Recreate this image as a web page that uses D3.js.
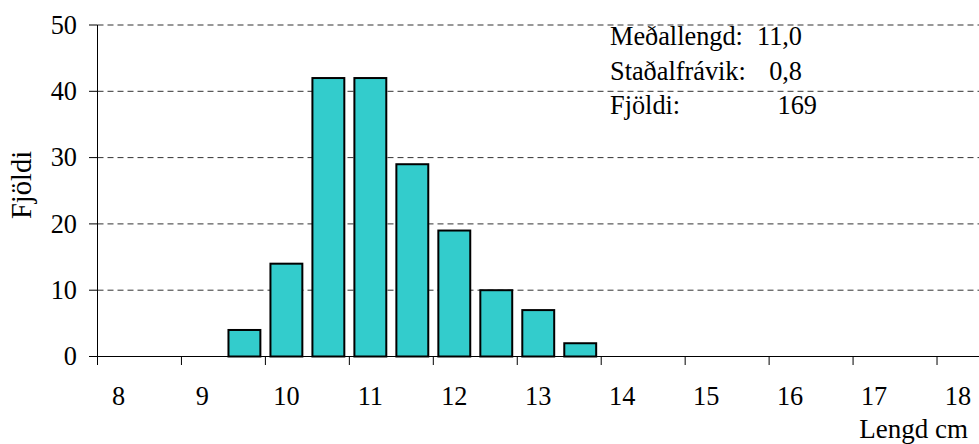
<!DOCTYPE html>
<html><head><meta charset="utf-8">
<script src="https://cdn.jsdelivr.net/npm/d3@7"></script>
<style>body{margin:0;background:#fff}svg{display:block}</style>
</head><body><svg id="c" width="979" height="444"></svg>
<script>
const categories = [8,8.5,9,9.5,10,10.5,11,11.5,12,12.5,13,13.5,14,14.5,15,15.5,16,16.5,17,17.5,18];
const counts     = [0,0,0,4,14,42,42,29,19,10,7,2,0,0,0,0,0,0,0,0,0];
const xTickLabels = [8,9,10,11,12,13,14,15,16,17,18];
const yTicks = [0,10,20,30,40,50];
const statLabels = ["Meðallengd:","Staðalfrávik:","Fjöldi:"];
const statValues = ["11,0","0,8","169"];

const FF = "'Liberation Serif'";
const svg = d3.select("#c");
const L=97.5, R=979, T=25, B=356.5;
const x = d3.scaleBand().domain(categories).range([L,R]).padding(0);
const y = d3.scaleLinear().domain([0,50]).range([B,T]);
const fs = 26.3;
function txt(g){ return g.append("text").style("font-family",FF).attr("fill","#000"); }

// gridlines
svg.append("g").selectAll("line").data(yTicks.filter(d=>d>0)).join("line")
  .attr("x1",L).attr("x2",R).attr("y1",d=>y(d)).attr("y2",d=>y(d))
  .attr("stroke","#333").attr("stroke-width",1).attr("stroke-dasharray","6,4");

// bars
const bw = x.bandwidth()*0.76;
svg.append("g").selectAll("rect").data(categories.map((c,i)=>({c,v:counts[i]})).filter(d=>d.v>0)).join("rect")
  .attr("x",d=>x(d.c)+(x.bandwidth()-bw)/2).attr("width",bw)
  .attr("y",d=>y(d.v)).attr("height",d=>y(0)-y(d.v))
  .attr("fill","#33CCCC").attr("stroke","#000").attr("stroke-width",2);

// y axis
const ya = svg.append("g");
ya.append("line").attr("x1",L).attr("x2",L).attr("y1",T).attr("y2",B).attr("stroke","#000");
ya.selectAll("line.t").data(yTicks).join("line").attr("class","t")
  .attr("x1",L-8.5).attr("x2",L).attr("y1",d=>y(d)).attr("y2",d=>y(d)).attr("stroke","#000");
ya.selectAll("text").data(yTicks).join("text").style("font-family",FF)
  .attr("x",77).attr("y",d=>y(d)).attr("dy","0.33em").attr("text-anchor","end")
  .attr("font-size",fs).text(d=>d);

// x axis
const xa = svg.append("g");
xa.append("line").attr("x1",L).attr("x2",R).attr("y1",B).attr("y2",B).attr("stroke","#000");
xa.selectAll("line.t").data(xTickLabels).join("line").attr("class","t")
  .attr("x1",d=>x(d)).attr("x2",d=>x(d)).attr("y1",B).attr("y2",B+8.5).attr("stroke","#000");
xa.selectAll("text").data(xTickLabels).join("text").style("font-family",FF)
  .attr("x",d=>x(d)+x.bandwidth()/2).attr("y",405).attr("text-anchor","middle")
  .attr("font-size",fs).text(d=>d);

txt(svg).attr("x",968).attr("y",438).attr("text-anchor","end").attr("font-size",27).text("Lengd cm");
txt(svg).attr("transform","translate(31,185) rotate(-90)").attr("text-anchor","middle")
  .attr("font-size",28.5).text("Fjöldi");

// stats box
const baseY = [44.5,80,114];
const valX = [802,802,817];
statLabels.forEach((s,i)=>{
  txt(svg).attr("x",610).attr("y",baseY[i]).attr("font-size",fs).text(s);
  txt(svg).attr("x",valX[i]).attr("y",baseY[i]).attr("text-anchor","end").attr("font-size",fs).text(statValues[i]);
});
</script></body></html>
